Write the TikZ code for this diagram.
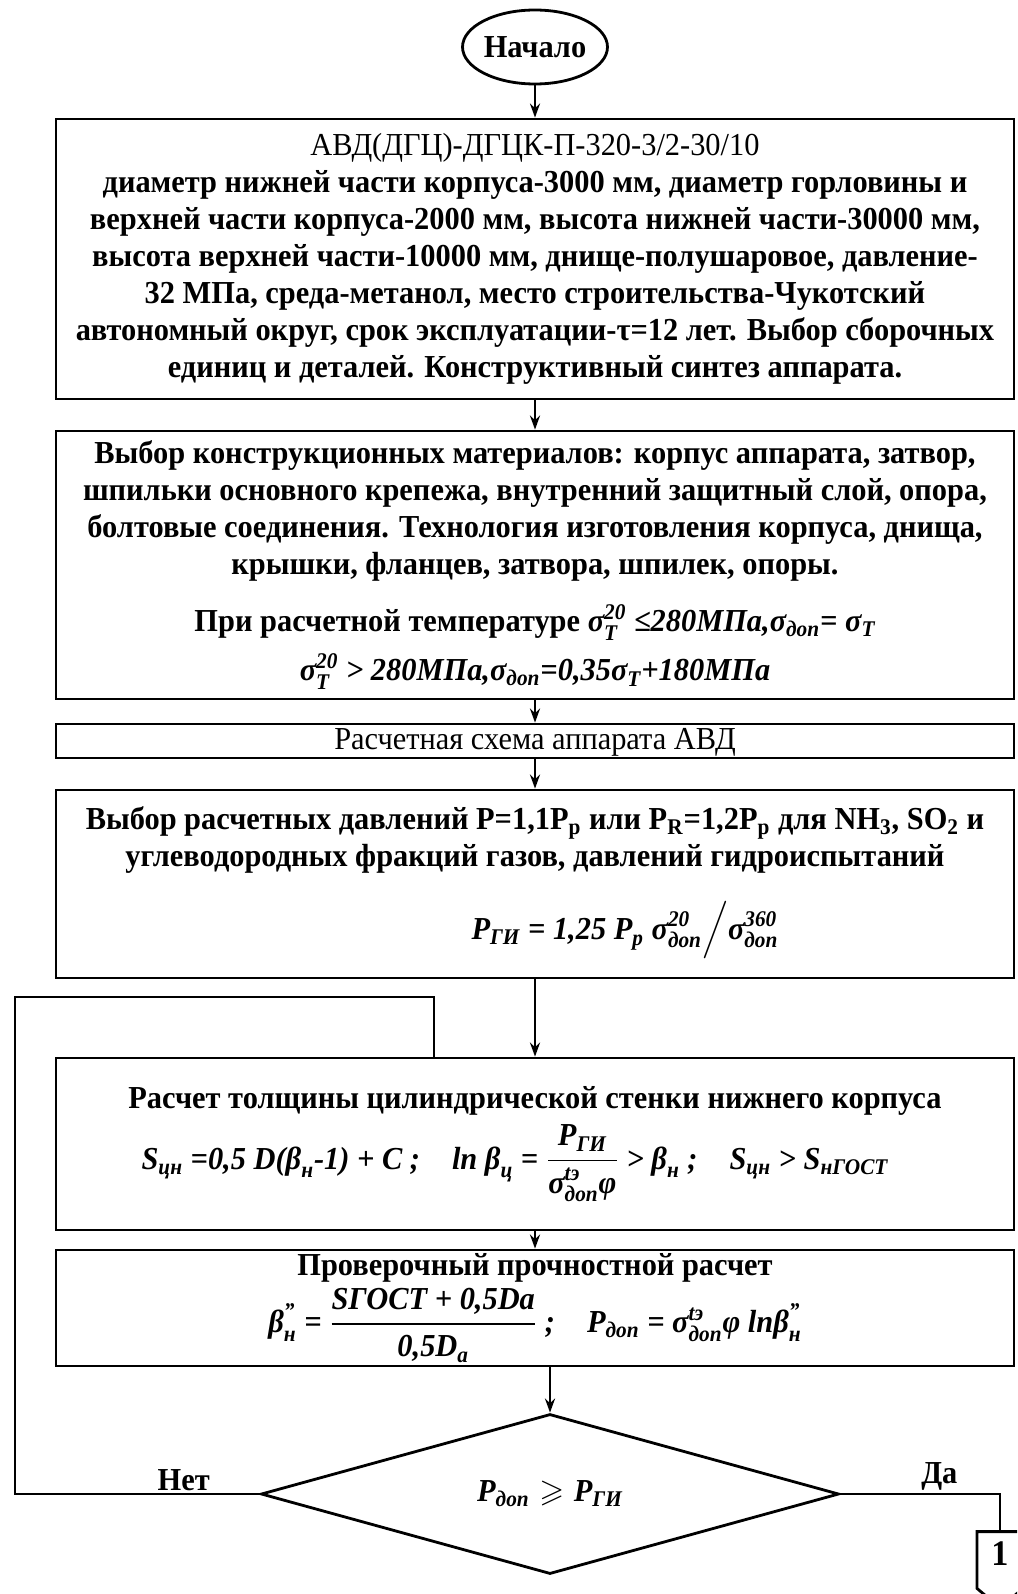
\documentclass[tikz,border=0pt]{standalone}
\usepackage{amsmath,amssymb}
\usepackage{fontspec}
\setmainfont{Liberation Serif}[FakeStretch=0.95]
\usepackage{tikz}
\usetikzlibrary{calc,arrows.meta,positioning,shapes.geometric,shapes.symbols}
\newcommand{\fs}{\fontsize{16}{18.5}\selectfont}
\newcommand{\kit}[1]{\text{\itshape #1}}
\tikzset{
  ln/.style={line width=1.4pt,black},
  ar/.style={-{Stealth[length=7pt,width=5pt]},line width=1.4pt},
  bx/.style={draw,line width=1.4pt,minimum width=479pt,align=center,inner sep=1pt,font=\fs\bfseries},
  strt/.style={ellipse,draw,line width=1.4pt,minimum width=69pt,minimum height=37pt,inner sep=0pt,font=\fs\bfseries},
  decis/.style={diamond,aspect=3.6,draw,line width=1.4pt,minimum width=289pt,minimum height=80pt,inner sep=0pt,font=\fs\bfseries},
  ofp/.style={signal,signal to=south,signal pointer angle=100,draw,line width=1.4pt,minimum width=23pt,minimum height=32pt,inner sep=0pt,text depth=6pt,font=\fontsize{18}{20}\selectfont\bfseries},
  lbl/.style={font=\fs\bfseries,inner sep=1pt}
}

\begin{document}
\begin{tikzpicture}[x=0.5pt,y=0.5pt]
\useasboundingbox (0,0) rectangle (1017,-1594);
\clip (0,0) rectangle (1017,-1594);
\node[strt] (st) at (535,-47) {Начало};
\node[bx,minimum height=140pt] (b1) at (535,-259) {{\mdseries АВД(ДГЦ)-ДГЦК-П-320-3/2-30/10}\\
диаметр нижней части корпуса-3000 мм, диаметр горловины и\\
верхней части корпуса-2000 мм, высота нижней части-30000 мм,\\
высота верхней части-10000 мм, днище-полушаровое, давление-\\
32 МПа, среда-метанол, место строительства-Чукотский\\
автономный округ, срок эксплуатации-τ=12 лет. Выбор сборочных\\
единиц и деталей. Конструктивный синтез аппарата.};
\node[bx,minimum height=134pt] (b2) at (535,-565) {Выбор конструкционных материалов: корпус аппарата, затвор,\\
шпильки основного крепежа, внутренний защитный слой, опора,\\
болтовые соединения. Технология изготовления корпуса, днища,\\
крышки, фланцев, затвора, шпилек, опоры.\\[10pt]
При расчетной температуре $\kit{σ}^{\kit{20}}_{\kit{T}}\kit{ ≤280МПа,}\kit{σ}_{\kit{доп}}\kit{= σ}_{\kit{T}}$\\[6pt]
$\kit{σ}^{\kit{20}}_{\kit{T}}\kit{ > 280МПа,}\kit{σ}_{\kit{доп}}\kit{=0,35σ}_{\kit{T}}\kit{+180МПа}$};
\node[bx,font=\fs,minimum height=17pt,inner ysep=0pt,text height=11pt,text depth=3pt] (b3) at (535,-741) {Расчетная схема аппарата АВД};
\node[bx,minimum height=94pt] (b4) at (535,-884) {Выбор расчетных давлений P=1,1P\textsubscript{р} или P\textsubscript{R}=1,2P\textsubscript{р} для NH\textsubscript{3}, SO\textsubscript{2} и\\
углеводородных фракций газов, давлений гидроиспытаний\\[12pt]
\hspace*{90pt}$\kit{P}_{\kit{ГИ}}\kit{ =  1,25 P}_{\kit{p}}\ \kit{σ}^{\kit{20}}_{\kit{доп}}\Big/\kit{σ}^{\kit{360}}_{\kit{доп}}$};
\node[bx,minimum height=86pt] (b5) at (535,-1144) {Расчет толщины цилиндрической стенки нижнего корпуса\\[4pt]
\hspace*{-20pt}$\kit{S}_{\kit{цн}}\kit{ =0,5 D(β}_{\kit{н}}\kit{-1) + C ;}\quad\kit{ln β}_{\kit{ц}}\kit{ = }\dfrac{\kit{P}_{\kit{ГИ}}}{\kit{σ}^{\kit{tэ}}_{\kit{доп}}\kit{φ}}\kit{ > β}_{\kit{н}}\kit{ ;}\quad\kit{S}_{\kit{цн}}\kit{ > S}_{\kit{нГОСТ}}$};
\node[bx,minimum height=58pt] (b6) at (535,-1308) {Проверочный прочностной расчет\\[2pt]
$\kit{β}^{\kit{''}}_{\kit{н}}\kit{ = }\dfrac{\kit{SГОСТ + 0,5Da}}{\kit{0,5D}_{\kit{a}}}\kit{ ;}\quad\kit{P}_{\kit{доп}}\kit{ = σ}^{\kit{tэ}}_{\kit{доп}}\kit{φ lnβ}^{\kit{''}}_{\kit{н}}$};
\node[decis] (chk) at (550,-1494) {$\kit{P}_{\kit{доп}}\geqslant\kit{P}_{\kit{ГИ}}$};
\node[ofp] (pg) at (1000,-1560) {1};
\coordinate (lpa) at (15,-997);
\coordinate (lpb) at (434,-997);
\draw[ar] (st) -- (b1);
\draw[ar] (b1) -- (b2);
\draw[ar] (b2) -- (b3);
\draw[ar] (b3) -- (b4);
\draw[ar] (b4) -- (b5);
\draw[ar] (b5) -- (b6);
\draw[ar] (b6.south -| chk.north) -- (chk.north);
\draw[ln] (chk.west) -| node[pos=0.155,above,lbl]{Нет} (lpa) -- (lpb) -- (lpb |- b5.north);
\draw[ln] (chk.east) -| node[pos=0.31,above,lbl]{Да} (pg.north);
\end{tikzpicture}
\end{document}
